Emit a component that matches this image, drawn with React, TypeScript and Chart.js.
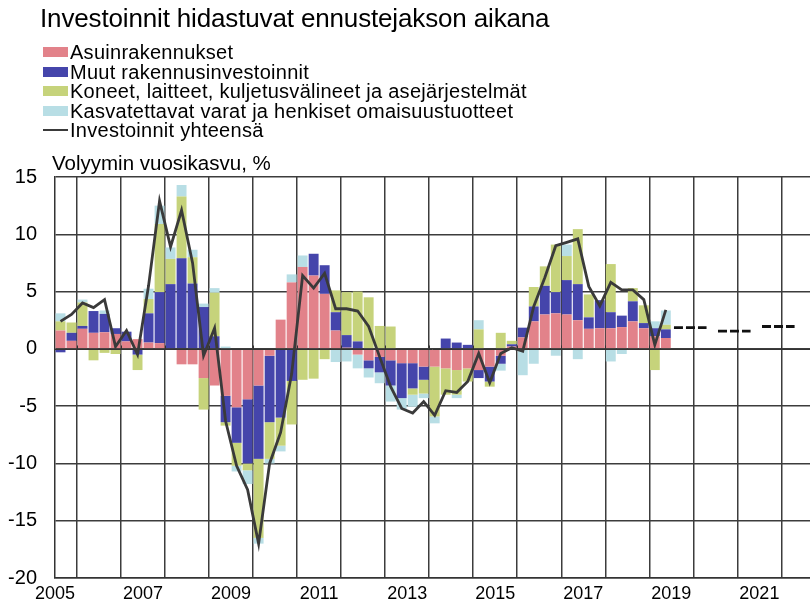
import React, { useEffect, useRef } from "react";
import { Chart, registerables } from "chart.js";
Chart.register(...registerables);

// Quarterly categories 2005Q1 .. 2018Q4
const years = [2005, 2006, 2007, 2008, 2009, 2010, 2011, 2012, 2013, 2014, 2015, 2016, 2017, 2018];
const quarterNames = ["Q1", "Q2", "Q3", "Q4"];
const categories: string[] = [];
years.forEach((y) => quarterNames.forEach((q) => categories.push(`${y}${q}`)));

// Contributions to volume growth, %-points
const residential = [
  1.6, 0.7, 1.75, 1.4, 1.45, 1.3, 0.65, 0.85,
  0.55, 0.5, 0.0, -1.35, -1.35, -2.55, -3.2, -4.1,
  -5.1, -4.4, -3.2, -0.6, 2.55, 5.8, 7.15, 6.4,
  4.8, 1.6, 0.1, -0.5, -1.0, -0.7, -1.0, -1.25,
  -1.25, -1.55, -1.55, -1.7, -1.85, -1.7, -1.85, -1.55,
  -0.6, 0.2, 1.0, 2.4, 3.0, 3.1, 3.0, 2.5,
  1.75, 1.8, 1.8, 1.9, 2.4, 1.8, 1.1, 0.95,
];
const otherBuilding = [
  -0.3, 0.7, 0.25, 1.9, 1.6, 0.5, 0.85, -0.5,
  2.55, 4.45, 5.65, 7.9, 5.7, 3.65, 1.1, -2.3,
  -3.1, -5.6, -6.4, -5.8, -6.0, -2.8, 0.0, 1.9,
  2.5, 1.6, 1.1, 0.65, -0.7, -1.35, -2.2, -3.05,
  -2.2, -1.15, 0.0, 0.9, 0.55, 0.35, -0.7, -1.3,
  -0.7, 0.2, 0.85, 1.3, 2.5, 1.85, 3.0, 3.15,
  1.0, 2.45, 1.4, 1.0, 1.75, 0.45, 0.7, 0.75,
];
const machinery = [
  0.8, 0.9, 2.05, -1.0, -0.35, -0.45, 0.0, -1.35,
  1.25, 5.95, 2.2, 5.4, 2.3, -2.75, 3.8, -0.3,
  -2.0, -0.6, -6.9, -3.2, -2.45, -3.8, -2.7, -2.6,
  -0.9, 1.9, 3.75, 4.35, 4.5, 2.0, 1.95, 0.0,
  -0.55, -1.2, -4.35, -2.3, -2.15, -1.15, 1.7, -0.45,
  1.4, 0.3, 0.0, 1.7, 1.7, 4.15, 2.1, 4.8,
  2.0, 0.0, 4.2, 0.0, 1.15, 1.55, -1.85, 0.4,
];
const intangible = [
  0.7, 0.0, 0.25, 0.0, 0.3, 0.0, 0.0, 0.0,
  0.9, 1.6, 1.0, 1.0, 0.65, 0.3, 0.4, 0.2,
  -0.5, -1.2, -0.5, -0.4, -0.5, 0.7, 1.0, 0.0,
  0.0, -1.15, -1.1, -1.2, -0.8, -0.95, -1.4, -1.0,
  -1.05, -0.4, -0.6, 0.0, -0.3, 0.0, 0.8, 0.0,
  -0.6, 0.0, -2.3, -1.3, 0.0, -0.6, 1.0, -0.9,
  0.0, 0.0, -1.1, -0.45, -0.1, 0.0, 0.6, 1.25,
];
const total = [
  2.4, 3.0, 4.0, 3.6, 4.3, 0.2, 1.6, -0.5,
  5.5, 12.9, 8.9, 12.1, 7.5, -0.6, 1.8, -6.3,
  -10.2, -12.3, -17.0, -10.0, -7.3, -2.2, 6.4, 5.3,
  6.6, 3.5, 3.5, 3.3, 1.95, -0.7, -3.3, -5.2,
  -5.6, -4.6, -5.8, -3.65, -3.8, -2.85, -0.4, -2.95,
  -0.4, 0.1, -0.2, 3.7, 6.2, 9.0, 9.3, 9.6,
  5.45, 3.75, 5.8, 5.15, 5.15, 4.3, 0.35, 3.4,
];

// Forecast (annual)
const forecastYears = [2019, 2020, 2021];
const forecastTotal = [1.85, 1.55, 1.95];

// Axis
const xLabelYears = [2005, 2007, 2009, 2011, 2013, 2015, 2017, 2019, 2021];
const yMin = -20;
const yMax = 15;
const yStep = 5;

const seriesNames = [
  "Asuinrakennukset",
  "Muut rakennusinvestoinnit",
  "Koneet, laitteet, kuljetusvälineet ja asejärjestelmät",
  "Kasvatettavat varat ja henkiset omaisuustuotteet",
];
const lineName = "Investoinnit yhteensä";
const colors = ["#E2828A", "#4545AB", "#C6D37B", "#B8DEE5"];
const lineColor = "#3a3a3a";
const FONT = "'Liberation Sans', Arial, sans-serif";

function quarterX(cat: string): number {
  const y = parseInt(cat.slice(0, 4), 10);
  const q = parseInt(cat.slice(5), 10);
  return y + (q - 0.5) / 4;
}

const zeroLinePlugin = {
  id: "zeroLine",
  beforeDatasetDraw(chart: any, args: any) {
    if (args.meta.type !== "line" || args.index !== 4) return;
    const { ctx, chartArea, scales } = chart;
    const y0 = Math.round(scales.y.getPixelForValue(0)) + 0.5;
    ctx.save();
    ctx.strokeStyle = "#333";
    ctx.lineWidth = 1;
    ctx.beginPath();
    ctx.moveTo(chartArea.left, y0);
    ctx.lineTo(chartArea.right, y0);
    for (let yr = 2005; yr <= 2021; yr++) {
      const xp = Math.round(scales.x.getPixelForValue(yr + 0.5)) + 0.5;
      ctx.moveTo(xp, y0);
      ctx.lineTo(xp, y0 - 4);
    }
    ctx.stroke();
    ctx.restore();
  },
};

export default function App() {
  const ref = useRef<HTMLCanvasElement | null>(null);
  useEffect(() => {
    if (!ref.current) return;
    const xs = categories.map(quarterX);
    const barSets = [residential, otherBuilding, machinery, intangible].map((vals, k) => ({
      type: "bar" as const,
      label: seriesNames[k],
      data: vals.map((v, i) => ({ x: xs[i], y: v })),
      backgroundColor: colors[k],
      borderWidth: 0,
      barPercentage: 0.9,
      categoryPercentage: 1,
      stack: "bars",
      order: 2,
    }));
    const fcData: any[] = [];
    forecastYears.forEach((yr, i) => {
      fcData.push({ x: yr + 0.06, y: forecastTotal[i] });
      fcData.push({ x: yr + 0.8, y: forecastTotal[i] });
      fcData.push({ x: yr + 0.9, y: null });
    });
    const chart = new Chart(ref.current, {
      type: "bar",
      data: {
        datasets: [
          ...barSets,
          {
            type: "line" as const,
            label: lineName,
            data: total.map((v, i) => ({ x: xs[i], y: v })),
            borderColor: lineColor,
            borderWidth: 2.8,
            pointRadius: 0,
            tension: 0,
            stack: "total",
            order: 0,
          },
          {
            type: "line" as const,
            label: "Ennuste",
            data: fcData,
            borderColor: "#111",
            borderWidth: 2.8,
            borderDash: [9, 3],
            pointRadius: 0,
            tension: 0,
            spanGaps: false,
            stack: "forecast",
            order: 0,
          },
        ] as any,
      },
      options: {
        animation: false,
        responsive: false,
        devicePixelRatio: 1,
        layout: { padding: { top: 177, left: 0, right: 0, bottom: 0 } },
        plugins: { legend: { display: false }, title: { display: false }, tooltip: { enabled: false } },
        scales: {
          x: {
            type: "linear",
            min: 2005,
            max: 2022.15,
            stacked: true,
            offset: false,
            border: { display: true, color: "#333", width: 1.5 },
            grid: { color: "#3c3c3c", lineWidth: 1.5, drawTicks: false },
            ticks: {
              stepSize: 1,
              autoSkip: false,
              maxRotation: 0,
              includeBounds: false,
              padding: 5,
              color: "#000",
              font: { family: FONT, size: 18 },
              callback: (v: any) => (xLabelYears.includes(Number(v)) ? String(v) : ""),
            },
            afterFit: (s: any) => {
              s.height = 30;
            },
          },
          y: {
            type: "linear",
            min: yMin,
            max: yMax,
            stacked: true,
            border: { display: true, color: "#333", width: 1.5 },
            grid: { color: "#3c3c3c", lineWidth: 1.5, drawTicks: false },
            ticks: {
              stepSize: yStep,
              padding: 18,
              color: "#000",
              font: { family: FONT, size: 20 },
            },
            afterFit: (s: any) => {
              s.width = 55;
            },
          },
        },
      } as any,
      plugins: [zeroLinePlugin],
    });
    return () => chart.destroy();
  }, []);

  const legendRow = (i: number, content: React.ReactNode, label: string) => (
    <div key={label} style={{ position: "absolute", left: 43, top: 42 + i * 19.6, height: 20, lineHeight: "20px", display: "flex", alignItems: "center", whiteSpace: "nowrap" }}>
      {content}
      <span style={{ marginLeft: 2 }}>{label}</span>
    </div>
  );

  return (
    <div style={{ position: "absolute", left: 0, top: 0, width: 810, height: 608, background: "#fff", fontFamily: FONT, color: "#000", overflow: "hidden" }}>
      <canvas ref={ref} width={810} height={608} style={{ position: "absolute", left: 0, top: 0, width: 810, height: 608 }} />
      <div style={{ position: "absolute", left: 40, top: 3, fontSize: 26, letterSpacing: -0.15, whiteSpace: "nowrap" }}>
        Investoinnit hidastuvat ennustejakson aikana
      </div>
      <div style={{ fontSize: 20, letterSpacing: 0.27 }}>
        {seriesNames.map((n, i) =>
          legendRow(i, <span style={{ display: "inline-block", width: 25, height: 10, background: colors[i] }} />, n)
        )}
        {legendRow(4, <span style={{ display: "inline-block", width: 25, height: 2, background: lineColor }} />, lineName)}
      </div>
      <div style={{ position: "absolute", left: 52, top: 151, fontSize: 20.5, whiteSpace: "nowrap" }}>Volyymin vuosikasvu, %</div>
    </div>
  );
}
